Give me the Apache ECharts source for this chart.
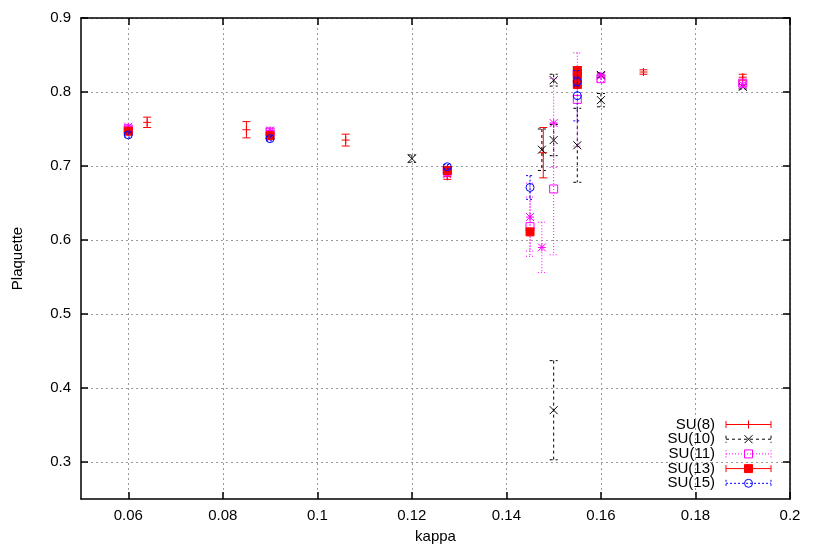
<!DOCTYPE html>
<html><head><meta charset="utf-8">
<script src="https://cdn.jsdelivr.net/npm/echarts@6/dist/echarts.min.js"></script>
<style>html,body{margin:0;padding:0;background:#fff}#c{width:817px;height:545px}</style>
</head><body><div id="c"></div>
<script>
// ---- tick labels ----
const xTicks = [0.06, 0.08, 0.1, 0.12, 0.14, 0.16, 0.18, 0.2];
const yTicks = [0.3, 0.4, 0.5, 0.6, 0.7, 0.8, 0.9];

// ---- series data: kappa, plaquette, error ----
const su8Kappa = [0.06, 0.064, 0.085, 0.09, 0.106, 0.1275, 0.1478, 0.155, 0.169, 0.19];
const su8Plaq  = [0.746, 0.759, 0.749, 0.741, 0.735, 0.686, 0.718, 0.826, 0.827, 0.820];
const su8Err   = [0.003, 0.007, 0.011, 0.003, 0.008, 0.004, 0.034, 0.005, 0.003, 0.004];

const su10Kappa = [0.12, 0.1475, 0.15, 0.15, 0.15, 0.155, 0.155, 0.16, 0.16, 0.19];
const su10Plaq  = [0.710, 0.722, 0.816, 0.735, 0.370, 0.829, 0.728, 0.823, 0.789, 0.807];
const su10Err   = [0.005, 0.028, 0.008, 0.021, 0.067, 0.004, 0.050, 0.003, 0.009, 0.003];

const su11Kappa = [0.06, 0.09, 0.1275, 0.145, 0.15, 0.155, 0.155, 0.16, 0.19];
const su11Plaq  = [0.750, 0.746, 0.693, 0.618, 0.669, 0.825, 0.790, 0.818, 0.812];
const su11Err   = [0.003, 0.003, 0.003, 0.040, 0.089, 0.004, 0.063, 0.004, 0.003];

const su12Kappa = [0.06, 0.09, 0.1275, 0.145, 0.1475, 0.15, 0.155, 0.16, 0.19];
const su12Plaq  = [0.753, 0.748, 0.689, 0.631, 0.590, 0.758, 0.829, 0.822, 0.810];
const su12Err   = [0.003, 0.003, 0.004, 0.046, 0.034, 0.060, 0.004, 0.003, 0.003];

const su13Kappa = [0.06, 0.09, 0.1275, 0.145, 0.155, 0.155, 0.155];
const su13Plaq  = [0.747, 0.741, 0.694, 0.611, 0.829, 0.819, 0.810];
const su13Err   = [0.003, 0.003, 0.003, 0.004, 0.004, 0.004, 0.004];

const su15Kappa = [0.06, 0.09, 0.1275, 0.145, 0.155, 0.155];
const su15Plaq  = [0.742, 0.737, 0.699, 0.671, 0.814, 0.795];
const su15Err   = [0.003, 0.003, 0.003, 0.016, 0.006, 0.034];

const seriesNames = ['SU(8)', 'SU(10)', 'SU(11)', 'SU(12)', 'SU(13)', 'SU(15)'];
const legendNames = ['SU(8)', 'SU(10)', 'SU(11)', 'SU(13)', 'SU(15)'];

const styles = {
  'SU(8)':  {color: '#ff0000', dash: null,   marker: 'plus'},
  'SU(10)': {color: '#000000', dash: [3, 3], marker: 'cross'},
  'SU(11)': {color: '#ff00ff', dash: [1, 2], marker: 'square'},
  'SU(12)': {color: '#ff00ff', dash: [1, 2], marker: 'star'},
  'SU(13)': {color: '#ff0000', dash: null,   marker: 'filled'},
  'SU(15)': {color: '#0000ff', dash: [2, 2], marker: 'circle'}
};
const dataSets = {
  'SU(8)': [su8Kappa, su8Plaq, su8Err],
  'SU(10)': [su10Kappa, su10Plaq, su10Err],
  'SU(11)': [su11Kappa, su11Plaq, su11Err],
  'SU(12)': [su12Kappa, su12Plaq, su12Err],
  'SU(13)': [su13Kappa, su13Plaq, su13Err],
  'SU(15)': [su15Kappa, su15Plaq, su15Err]
};

function markerShapes(type, x, y, color) {
  const s = 4;
  const st = {stroke: color, lineWidth: 1, fill: null};
  const L = (x1, y1, x2, y2) => ({type: 'line', shape: {x1, y1, x2, y2}, style: st});
  switch (type) {
    case 'plus': return [L(x - s, y, x + s, y), L(x, y - s, x, y + s)];
    case 'cross': return [L(x - s, y - s, x + s, y + s), L(x - s, y + s, x + s, y - s)];
    case 'star': return [L(x - s, y, x + s, y), L(x, y - s, x, y + s), L(x - s, y - s, x + s, y + s), L(x - s, y + s, x + s, y - s)];
    case 'square': return [{type: 'rect', shape: {x: x - s, y: y - s, width: 2 * s, height: 2 * s}, style: {stroke: color, lineWidth: 1, fill: null}}];
    case 'filled': return [{type: 'rect', shape: {x: x - s, y: y - s, width: 2 * s, height: 2 * s}, style: {fill: color, stroke: color, lineWidth: 1}}];
    case 'circle': return [{type: 'circle', shape: {cx: x, cy: y, r: s}, style: {stroke: color, lineWidth: 1, fill: null}}];
  }
  return [];
}

function makeRender(st) {
  return function (params, api) {
    const x = api.value(0), y = api.value(1), e = api.value(2);
    const c = api.coord([x, y]);
    const t = api.coord([x, y + e]);
    const b = api.coord([x, y - e]);
    const cap = 4;
    const ls = {stroke: st.color, lineWidth: 1, lineDash: st.dash, fill: null};
    const children = [
      {type: 'line', shape: {x1: c[0], y1: t[1], x2: c[0], y2: b[1]}, style: ls},
      {type: 'line', shape: {x1: c[0] - cap, y1: t[1], x2: c[0] + cap, y2: t[1]}, style: ls},
      {type: 'line', shape: {x1: c[0] - cap, y1: b[1], x2: c[0] + cap, y2: b[1]}, style: ls}
    ].concat(markerShapes(st.marker, c[0], c[1], st.color));
    return {type: 'group', children};
  };
}

const series = seriesNames.map(name => {
  const [k, p, e] = dataSets[name];
  return {
    name, type: 'custom', xAxisIndex: 0, yAxisIndex: 0,
    renderItem: makeRender(styles[name]),
    encode: {x: 0, y: 1},
    data: k.map((v, i) => [v, p[i], e[i]]),
    silent: true
  };
});

// legend drawn as graphic (gnuplot style key)
const legendGraphics = [];
const keyTextX = 715, keyX1 = 726, keyX2 = 771, keyY0 = 424.5, keyDy = 14.7;
legendNames.forEach((name, i) => {
  const st = styles[name];
  const y = keyY0 + i * keyDy;
  const xm = (keyX1 + keyX2) / 2;
  const ls = {stroke: st.color, lineWidth: 1, lineDash: st.dash, fill: null};
  legendGraphics.push({type: 'text', x: keyTextX, y: y, style: {text: name, textAlign: 'right', textVerticalAlign: 'middle', font: '15px "Liberation Sans", Arial, sans-serif', fill: '#000'}});
  legendGraphics.push({type: 'line', shape: {x1: keyX1, y1: y, x2: keyX2, y2: y}, style: ls});
  legendGraphics.push({type: 'line', shape: {x1: keyX1, y1: y - 3.5, x2: keyX1, y2: y + 3.5}, style: ls});
  legendGraphics.push({type: 'line', shape: {x1: keyX2, y1: y - 3.5, x2: keyX2, y2: y + 3.5}, style: ls});
  markerShapes(st.marker, xm, y, st.color).forEach(g => legendGraphics.push(g));
});

const font = '"Liberation Sans", Arial, Helvetica, sans-serif';
const gridLine = {show: true, lineStyle: {color: '#9a9a9a', width: 1, type: [2, 3]}};
const axisLine = {show: true, onZero: false, lineStyle: {color: '#000', width: 1.5}};
const tick = (vals) => ({show: true, inside: true, length: 7, customValues: vals, lineStyle: {color: '#000', width: 1.5}});

const option = {
  animation: false,
  backgroundColor: '#fff',
  grid: {left: 81, right: 27, top: 18, bottom: 46, containLabel: false, outerBoundsMode: 'none'},
  xAxis: [
    {type: 'value', min: 0.05, max: 0.2, position: 'bottom',
     name: 'kappa', nameLocation: 'middle', nameGap: 30,
     nameTextStyle: {fontFamily: font, fontSize: 15, color: '#000'},
     axisLine, axisTick: tick(xTicks), splitLine: gridLine,
     axisLabel: {customValues: xTicks, fontFamily: font, fontSize: 15, color: '#000', margin: 9,
                 formatter: v => String(+v.toFixed(2))}},
    {type: 'value', min: 0.05, max: 0.2, position: 'top',
     axisLine, axisTick: tick(xTicks), splitLine: {show: false}, axisLabel: {show: false}}
  ],
  yAxis: [
    {type: 'value', min: 0.25, max: 0.9, position: 'left',
     name: 'Plaquette', nameLocation: 'middle', nameGap: 56, nameRotate: 90,
     nameTextStyle: {fontFamily: font, fontSize: 15, color: '#000'},
     axisLine, axisTick: tick(yTicks), splitLine: gridLine,
     axisLabel: {customValues: yTicks, fontFamily: font, fontSize: 15, color: '#000', margin: 10,
                 formatter: v => String(+v.toFixed(1))}},
    {type: 'value', min: 0.25, max: 0.9, position: 'right',
     axisLine, axisTick: tick(yTicks), splitLine: {show: false}, axisLabel: {show: false}}
  ],
  series,
  graphic: legendGraphics
};

const chart = echarts.init(document.getElementById('c'), null, {renderer: 'canvas'});
chart.setOption(option);
</script></body></html>
